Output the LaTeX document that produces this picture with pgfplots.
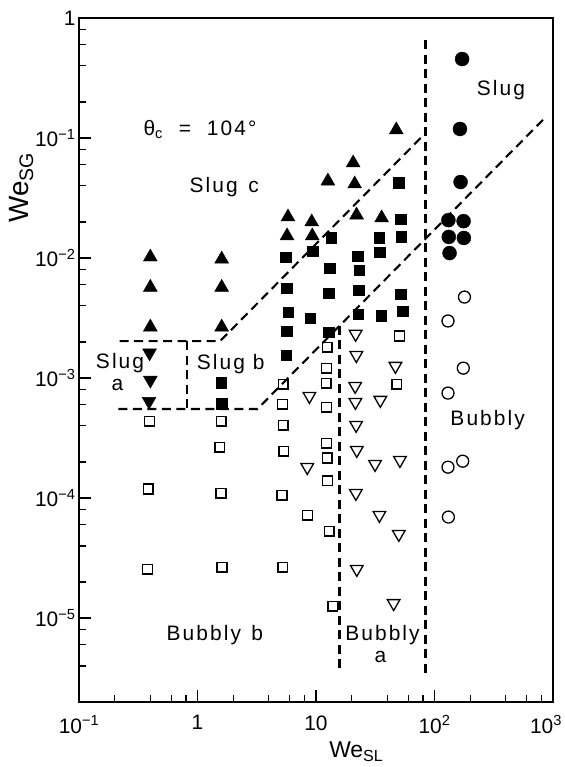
\documentclass[border=0pt]{standalone}
\usepackage{pgfplots}
\pgfplotsset{compat=1.18}
\usepackage{fontspec}
\setmainfont{Liberation Sans}
\newfontfamily\lbl[LetterSpace=10]{Liberation Sans}
\usetikzlibrary{calc}

\pgfplotstableread{
x y
0.4 0.0102
0.4 0.0057
0.4 0.00266
1.6 0.0098
1.6 0.0057
1.6 0.00266
5.8 0.022
5.7 0.0153
9.2 0.020
9.3 0.0153
12.6 0.0438
20.6 0.062
21.2 0.0414
22 0.0228
35.8 0.0216
47.6 0.117
}\triup

\pgfplotstableread{
x y
1.59 9.1e-4
1.6 6.1e-4
5.56 0.0102
5.65 0.0056
5.83 0.00355
5.67 0.00246
5.62 0.00155
8.96 0.00316
9.36 0.0114
13.4 0.0147
13.1 0.00825
12.8 0.0051
12.8 0.00242
22.5 0.0104
23.1 0.0079
22.9 0.0054
22.7 0.0034
34.1 0.0147
34.4 0.0112
35.5 0.0033
49.8 0.0422
51.7 0.0211
52.2 0.0150
51.7 0.0050
54.2 0.0036
}\sqfill

\pgfplotstableread{
x y
0.394 0.00162
0.4 9.6e-4
0.39 6.4e-4
}\tridown

\pgfplotstableread{
x y
0.393 4.38e-4
0.383 1.19e-4
0.377 2.56e-5
1.585 4.38e-4
1.546 2.66e-4
1.58 1.10e-4
1.61 2.66e-5
5.28 8.9e-4
5.23 6.07e-4
5.29 4.06e-4
5.36 2.46e-4
5.17 1.06e-4
5.26 2.66e-5
8.48 7.22e-5
12.4 1.81e-3
12.3 1.21e-3
12.2 9.08e-4
12.3 5.73e-4
12.3 2.87e-4
12.4 2.16e-4
12.5 1.39e-4
12.9 5.31e-5
13.9 1.26e-5
50.8 2.24e-3
48.2 8.91e-4
}\sqopen

\pgfplotstableread{
x y
21.6 2.33e-3
21.9 1.55e-3
21.4 8.58e-4
21.5 6.31e-4
34.9 6.56e-4
46.8 1.26e-3
8.8 7.08e-4
21.8 4.06e-4
22.1 2.51e-4
31.5 1.92e-4
51.1 2.07e-4
8.44 1.81e-4
21.7 1.10e-4
34.3 7.22e-5
50.0 5.01e-5
22.1 2.56e-5
45.2 1.33e-5
}\triopen

\pgfplotstableread{
x y
171 0.455
164 0.119
166 0.043
131 0.0207
176 0.0203
132 0.0150
177 0.0147
134 0.0110
}\circfill

\pgfplotstableread{
x y
179 4.73e-3
130 2.99e-3
175 1.21e-3
130 7.5e-4
173 2.03e-4
130 1.81e-4
131 6.95e-5
}\circopen

\begin{document}
\begin{tikzpicture}
\begin{axis}[
  scale only axis, width=474bp, height=684bp,
  xmode=log, ymode=log,
  xmin=0.1, xmax=1000, ymin=2e-6, ymax=1,
  tick pos=left, tick align=inside,
  xtick={0.1,1,10,100,1000},
  xticklabels={10\textsuperscript{−1},1,10,10\textsuperscript{2},\hspace*{-14bp}10\textsuperscript{3}},
  minor xtick={0.2,0.4,0.6,0.8,2,4,6,8,20,40,60,80,200,400,600,800},
  ytick={1e-5,1e-4,1e-3,1e-2,1e-1,1},
  yticklabels={10\textsuperscript{−5},10\textsuperscript{−4},10\textsuperscript{−3},10\textsuperscript{−2},10\textsuperscript{−1},1},
  minor ytick={4e-6,6e-6,8e-6,2e-5,4e-5,6e-5,8e-5,2e-4,4e-4,6e-4,8e-4,2e-3,4e-3,6e-3,8e-3,2e-2,4e-2,6e-2,8e-2,0.2,0.4,0.6,0.8},
  major tick length=12bp, minor tick length=7bp,
  every tick/.style={black, line width=1.3pt},
  axis line style={line width=1.8pt},
  tick label style={font=\fontsize{21}{21}\selectfont},
  xticklabel style={yshift=-10bp},
  xlabel={We\textsubscript{SL}},
  ylabel={We\textsubscript{SG}},
  xlabel style={at={(axis description cs:0.585,-0.073)}, anchor=center, font=\fontsize{23}{23}\selectfont},
  ylabel style={at={(axis description cs:-0.122,0.752)}, anchor=center, font=\fontsize{28}{28}\selectfont},
  dbound/.style={black, line width=2.1bp, dash pattern=on 9bp off 5.5bp},
]
\coordinate (BL) at (rel axis cs:0,0);
\coordinate (TR) at (rel axis cs:1,1);

% boundaries
\addplot[dbound] coordinates {(0.22,2.03e-3) (1.55,2.03e-3) (84,0.11)};
\addplot[dbound] coordinates {(84,0.65) (84,3.4e-6)};
\addplot[dbound] coordinates {(0.82,2.03e-3) (0.82,5.52e-4)};
\addplot[dbound] coordinates {(0.215,5.52e-4) (3.2,5.52e-4) (870,0.15)};
\addplot[dbound] coordinates {(15.8,2.73e-3) (15.8,3.7e-6)};

% data
\addplot[only marks, mark=triangle*, mark size=8bp, black] table {\triup};
\addplot[only marks, mark=triangle*, mark size=8bp, black, mark options={rotate=180}] table {\tridown};
\addplot[only marks, mark=square*, mark size=5.3bp, black] table {\sqfill};
\addplot[only marks, mark=square, mark size=4.9bp, black, mark options={line width=1.3bp}] table {\sqopen};
\addplot[only marks, mark=triangle, mark size=7.3bp, black, mark options={rotate=180, line width=1.3bp}] table {\triopen};
\addplot[only marks, mark=*, mark size=7bp, black] table {\circfill};
\addplot[only marks, mark=o, mark size=6bp, black, mark options={line width=1.3bp}] table {\circopen};

% region labels
\node[font=\lbl\fontsize{21}{21}\selectfont] at (axis cs:1.05,0.117) {θ\textsubscript{c}\ \ =\ \ 104°};
\node[font=\lbl\fontsize{21}{21}\selectfont] at (axis cs:364,0.25) {Slug};
\node[font=\lbl\fontsize{21}{21}\selectfont] at (axis cs:1.68,0.039) {Slug\enspace c};
\node[font=\lbl\fontsize{21}{21}\selectfont] at (axis cs:1.91,1.31e-3) {Slug b};
\node[font=\lbl\fontsize{21}{21}\selectfont] at (axis cs:0.222,1.33e-3) {Slug};
\node[font=\lbl\fontsize{21}{21}\selectfont] at (axis cs:0.211,8.74e-4) {a};
\node[font=\lbl\fontsize{21}{21}\selectfont] at (axis cs:281,4.47e-4) {Bubbly};
\node[font=\lbl\fontsize{21}{21}\selectfont] at (axis cs:1.40,7.22e-6) {Bubbly\enspace b};
\node[font=\lbl\fontsize{21}{21}\selectfont] at (axis cs:36.4,7.22e-6) {Bubbly};
\node[font=\lbl\fontsize{21}{21}\selectfont] at (axis cs:35,4.73e-6) {a};
\end{axis}
\pgfresetboundingbox
\path[use as bounding box] ($(BL)+(-79bp,-65bp)$) rectangle ($(TR)+(12bp,18bp)$);
\end{tikzpicture}
\end{document}
